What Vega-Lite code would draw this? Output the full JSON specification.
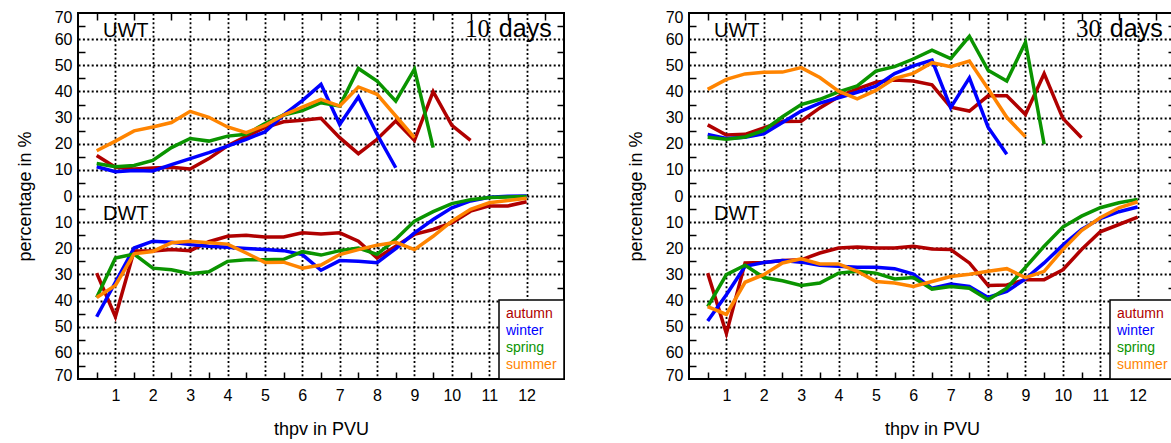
{
  "$schema": "https://vega.github.io/schema/vega-lite/v6.json",
  "padding": {"left": 15, "top": 8, "right": 0, "bottom": 0},
  "background": "white",
  "spacing": 60,
  "datasets": {
    "p10": [
      {"season":"autumn","type":"UWT","x":0.5,"v":15.5},{"season":"autumn","type":"UWT","x":1,"v":11},{"season":"autumn","type":"UWT","x":1.5,"v":10.3},{"season":"autumn","type":"UWT","x":2,"v":10.7},{"season":"autumn","type":"UWT","x":2.5,"v":11},{"season":"autumn","type":"UWT","x":3,"v":10.3},{"season":"autumn","type":"UWT","x":3.5,"v":14.3},{"season":"autumn","type":"UWT","x":4,"v":19.2},{"season":"autumn","type":"UWT","x":4.5,"v":22.8},{"season":"autumn","type":"UWT","x":5,"v":26.2},{"season":"autumn","type":"UWT","x":5.5,"v":28.4},{"season":"autumn","type":"UWT","x":6,"v":29},{"season":"autumn","type":"UWT","x":6.5,"v":29.7},{"season":"autumn","type":"UWT","x":7,"v":22.3},{"season":"autumn","type":"UWT","x":7.5,"v":16.2},{"season":"autumn","type":"UWT","x":8,"v":21.7},{"season":"autumn","type":"UWT","x":8.5,"v":28.7},{"season":"autumn","type":"UWT","x":9,"v":21.3},{"season":"autumn","type":"UWT","x":9.5,"v":39.9},{"season":"autumn","type":"UWT","x":10,"v":27},{"season":"autumn","type":"UWT","x":10.5,"v":21.3},
      {"season":"autumn","type":"DWT","x":0.5,"v":-29.5},{"season":"autumn","type":"DWT","x":1,"v":-46.2},{"season":"autumn","type":"DWT","x":1.5,"v":-21},{"season":"autumn","type":"DWT","x":2,"v":-21},{"season":"autumn","type":"DWT","x":2.5,"v":-20.5},{"season":"autumn","type":"DWT","x":3,"v":-20.9},{"season":"autumn","type":"DWT","x":3.5,"v":-17.5},{"season":"autumn","type":"DWT","x":4,"v":-15.4},{"season":"autumn","type":"DWT","x":4.5,"v":-15},{"season":"autumn","type":"DWT","x":5,"v":-15.7},{"season":"autumn","type":"DWT","x":5.5,"v":-15.7},{"season":"autumn","type":"DWT","x":6,"v":-14.1},{"season":"autumn","type":"DWT","x":6.5,"v":-14.5},{"season":"autumn","type":"DWT","x":7,"v":-14.1},{"season":"autumn","type":"DWT","x":7.5,"v":-17.3},{"season":"autumn","type":"DWT","x":8,"v":-23.7},{"season":"autumn","type":"DWT","x":8.5,"v":-19.2},{"season":"autumn","type":"DWT","x":9,"v":-14.7},{"season":"autumn","type":"DWT","x":9.5,"v":-12.8},{"season":"autumn","type":"DWT","x":10,"v":-10.3},{"season":"autumn","type":"DWT","x":10.5,"v":-5.8},{"season":"autumn","type":"DWT","x":11,"v":-3.8},{"season":"autumn","type":"DWT","x":11.5,"v":-3.8},{"season":"autumn","type":"DWT","x":12,"v":-2.2},
      {"season":"winter","type":"UWT","x":0.5,"v":11.2},{"season":"winter","type":"UWT","x":1,"v":9.3},{"season":"winter","type":"UWT","x":1.5,"v":9.8},{"season":"winter","type":"UWT","x":2,"v":9.6},{"season":"winter","type":"UWT","x":2.5,"v":12},{"season":"winter","type":"UWT","x":3,"v":14.3},{"season":"winter","type":"UWT","x":3.5,"v":16.6},{"season":"winter","type":"UWT","x":4,"v":19.1},{"season":"winter","type":"UWT","x":4.5,"v":21.7},{"season":"winter","type":"UWT","x":5,"v":24.5},{"season":"winter","type":"UWT","x":5.5,"v":31},{"season":"winter","type":"UWT","x":6,"v":36.5},{"season":"winter","type":"UWT","x":6.5,"v":42.7},{"season":"winter","type":"UWT","x":7,"v":27.4},{"season":"winter","type":"UWT","x":7.5,"v":37.9},{"season":"winter","type":"UWT","x":8,"v":23.6},{"season":"winter","type":"UWT","x":8.5,"v":10.8},
      {"season":"winter","type":"DWT","x":0.5,"v":-46.2},{"season":"winter","type":"DWT","x":1,"v":-33},{"season":"winter","type":"DWT","x":1.5,"v":-19.9},{"season":"winter","type":"DWT","x":2,"v":-17.3},{"season":"winter","type":"DWT","x":2.5,"v":-17.7},{"season":"winter","type":"DWT","x":3,"v":-18.6},{"season":"winter","type":"DWT","x":3.5,"v":-19.2},{"season":"winter","type":"DWT","x":4,"v":-19.6},{"season":"winter","type":"DWT","x":4.5,"v":-20.1},{"season":"winter","type":"DWT","x":5,"v":-20.5},{"season":"winter","type":"DWT","x":5.5,"v":-20.9},{"season":"winter","type":"DWT","x":6,"v":-22.4},{"season":"winter","type":"DWT","x":6.5,"v":-28.4},{"season":"winter","type":"DWT","x":7,"v":-24.7},{"season":"winter","type":"DWT","x":7.5,"v":-25},{"season":"winter","type":"DWT","x":8,"v":-25.5},{"season":"winter","type":"DWT","x":8.5,"v":-20.1},{"season":"winter","type":"DWT","x":9,"v":-14.1},{"season":"winter","type":"DWT","x":9.5,"v":-9},{"season":"winter","type":"DWT","x":10,"v":-4.5},{"season":"winter","type":"DWT","x":10.5,"v":-1.9},{"season":"winter","type":"DWT","x":11,"v":-0.5},{"season":"winter","type":"DWT","x":11.5,"v":-0.1},{"season":"winter","type":"DWT","x":12,"v":0},
      {"season":"spring","type":"UWT","x":0.5,"v":12.4},{"season":"spring","type":"UWT","x":1,"v":11.2},{"season":"spring","type":"UWT","x":1.5,"v":11.7},{"season":"spring","type":"UWT","x":2,"v":13.6},{"season":"spring","type":"UWT","x":2.5,"v":18.5},{"season":"spring","type":"UWT","x":3,"v":22},{"season":"spring","type":"UWT","x":3.5,"v":21},{"season":"spring","type":"UWT","x":4,"v":22.9},{"season":"spring","type":"UWT","x":4.5,"v":23.6},{"season":"spring","type":"UWT","x":5,"v":27.7},{"season":"spring","type":"UWT","x":5.5,"v":31},{"season":"spring","type":"UWT","x":6,"v":32.7},{"season":"spring","type":"UWT","x":6.5,"v":35.7},{"season":"spring","type":"UWT","x":7,"v":34.4},{"season":"spring","type":"UWT","x":7.5,"v":48.8},{"season":"spring","type":"UWT","x":8,"v":44},{"season":"spring","type":"UWT","x":8.5,"v":36.3},{"season":"spring","type":"UWT","x":9,"v":48.5},{"season":"spring","type":"UWT","x":9.5,"v":18.5},
      {"season":"spring","type":"DWT","x":0.5,"v":-38.8},{"season":"spring","type":"DWT","x":1,"v":-23.7},{"season":"spring","type":"DWT","x":1.5,"v":-22.2},{"season":"spring","type":"DWT","x":2,"v":-27.6},{"season":"spring","type":"DWT","x":2.5,"v":-28.2},{"season":"spring","type":"DWT","x":3,"v":-29.7},{"season":"spring","type":"DWT","x":3.5,"v":-29},{"season":"spring","type":"DWT","x":4,"v":-25},{"season":"spring","type":"DWT","x":4.5,"v":-24.4},{"season":"spring","type":"DWT","x":5,"v":-24.4},{"season":"spring","type":"DWT","x":5.5,"v":-24.2},{"season":"spring","type":"DWT","x":6,"v":-21.3},{"season":"spring","type":"DWT","x":6.5,"v":-22.6},{"season":"spring","type":"DWT","x":7,"v":-20.9},{"season":"spring","type":"DWT","x":7.5,"v":-19.9},{"season":"spring","type":"DWT","x":8,"v":-22.3},{"season":"spring","type":"DWT","x":8.5,"v":-16.5},{"season":"spring","type":"DWT","x":9,"v":-9.6},{"season":"spring","type":"DWT","x":9.5,"v":-6},{"season":"spring","type":"DWT","x":10,"v":-2.9},{"season":"spring","type":"DWT","x":10.5,"v":-1.4},{"season":"spring","type":"DWT","x":11,"v":-0.6},{"season":"spring","type":"DWT","x":11.5,"v":-0.4},{"season":"spring","type":"DWT","x":12,"v":-0.2},
      {"season":"summer","type":"UWT","x":0.5,"v":17.3},{"season":"summer","type":"UWT","x":1,"v":21},{"season":"summer","type":"UWT","x":1.5,"v":24.9},{"season":"summer","type":"UWT","x":2,"v":26.4},{"season":"summer","type":"UWT","x":2.5,"v":28.1},{"season":"summer","type":"UWT","x":3,"v":32.4},{"season":"summer","type":"UWT","x":3.5,"v":30.1},{"season":"summer","type":"UWT","x":4,"v":26.4},{"season":"summer","type":"UWT","x":4.5,"v":24.2},{"season":"summer","type":"UWT","x":5,"v":27},{"season":"summer","type":"UWT","x":5.5,"v":31},{"season":"summer","type":"UWT","x":6,"v":34},{"season":"summer","type":"UWT","x":6.5,"v":37},{"season":"summer","type":"UWT","x":7,"v":34.4},{"season":"summer","type":"UWT","x":7.5,"v":41.7},{"season":"summer","type":"UWT","x":8,"v":38.9},{"season":"summer","type":"UWT","x":8.5,"v":30.6},{"season":"summer","type":"UWT","x":9,"v":22.3},
      {"season":"summer","type":"DWT","x":0.5,"v":-38.8},{"season":"summer","type":"DWT","x":1,"v":-34.2},{"season":"summer","type":"DWT","x":1.5,"v":-22.1},{"season":"summer","type":"DWT","x":2,"v":-21.2},{"season":"summer","type":"DWT","x":2.5,"v":-17.9},{"season":"summer","type":"DWT","x":3,"v":-17.3},{"season":"summer","type":"DWT","x":3.5,"v":-17.9},{"season":"summer","type":"DWT","x":4,"v":-18.4},{"season":"summer","type":"DWT","x":4.5,"v":-21.8},{"season":"summer","type":"DWT","x":5,"v":-25.4},{"season":"summer","type":"DWT","x":5.5,"v":-25.3},{"season":"summer","type":"DWT","x":6,"v":-27.6},{"season":"summer","type":"DWT","x":6.5,"v":-26.4},{"season":"summer","type":"DWT","x":7,"v":-22.4},{"season":"summer","type":"DWT","x":7.5,"v":-20.5},{"season":"summer","type":"DWT","x":8,"v":-18.8},{"season":"summer","type":"DWT","x":8.5,"v":-17.7},{"season":"summer","type":"DWT","x":9,"v":-20.5},{"season":"summer","type":"DWT","x":9.5,"v":-15.4},{"season":"summer","type":"DWT","x":10,"v":-9.6},{"season":"summer","type":"DWT","x":10.5,"v":-5.1},{"season":"summer","type":"DWT","x":11,"v":-2.6},{"season":"summer","type":"DWT","x":11.5,"v":-1.7},{"season":"summer","type":"DWT","x":12,"v":-0.9}
    ],
    "p30": [
      {"season":"autumn","type":"UWT","x":0.5,"v":27.2},{"season":"autumn","type":"UWT","x":1,"v":23.3},{"season":"autumn","type":"UWT","x":1.5,"v":23.6},{"season":"autumn","type":"UWT","x":2,"v":26},{"season":"autumn","type":"UWT","x":2.5,"v":28.5},{"season":"autumn","type":"UWT","x":3,"v":28.6},{"season":"autumn","type":"UWT","x":3.5,"v":33.7},{"season":"autumn","type":"UWT","x":4,"v":38},{"season":"autumn","type":"UWT","x":4.5,"v":41},{"season":"autumn","type":"UWT","x":5,"v":43.5},{"season":"autumn","type":"UWT","x":5.5,"v":44.4},{"season":"autumn","type":"UWT","x":6,"v":44},{"season":"autumn","type":"UWT","x":6.5,"v":42.5},{"season":"autumn","type":"UWT","x":7,"v":34},{"season":"autumn","type":"UWT","x":7.5,"v":32.5},{"season":"autumn","type":"UWT","x":8,"v":38.3},{"season":"autumn","type":"UWT","x":8.5,"v":38.3},{"season":"autumn","type":"UWT","x":9,"v":31.2},{"season":"autumn","type":"UWT","x":9.5,"v":46.8},{"season":"autumn","type":"UWT","x":10,"v":29.7},{"season":"autumn","type":"UWT","x":10.5,"v":22.3},
      {"season":"autumn","type":"DWT","x":0.5,"v":-29.5},{"season":"autumn","type":"DWT","x":1,"v":-52.6},{"season":"autumn","type":"DWT","x":1.5,"v":-25.6},{"season":"autumn","type":"DWT","x":2,"v":-25.4},{"season":"autumn","type":"DWT","x":2.5,"v":-24.7},{"season":"autumn","type":"DWT","x":3,"v":-24.4},{"season":"autumn","type":"DWT","x":3.5,"v":-21.8},{"season":"autumn","type":"DWT","x":4,"v":-19.9},{"season":"autumn","type":"DWT","x":4.5,"v":-19.5},{"season":"autumn","type":"DWT","x":5,"v":-19.9},{"season":"autumn","type":"DWT","x":5.5,"v":-19.9},{"season":"autumn","type":"DWT","x":6,"v":-19.2},{"season":"autumn","type":"DWT","x":6.5,"v":-20.3},{"season":"autumn","type":"DWT","x":7,"v":-20.5},{"season":"autumn","type":"DWT","x":7.5,"v":-25.6},{"season":"autumn","type":"DWT","x":8,"v":-34.2},{"season":"autumn","type":"DWT","x":8.5,"v":-34},{"season":"autumn","type":"DWT","x":9,"v":-32},{"season":"autumn","type":"DWT","x":9.5,"v":-32},{"season":"autumn","type":"DWT","x":10,"v":-28.2},{"season":"autumn","type":"DWT","x":10.5,"v":-20.5},{"season":"autumn","type":"DWT","x":11,"v":-13.7},{"season":"autumn","type":"DWT","x":11.5,"v":-10.9},{"season":"autumn","type":"DWT","x":12,"v":-8.1},
      {"season":"winter","type":"UWT","x":0.5,"v":23.5},{"season":"winter","type":"UWT","x":1,"v":22},{"season":"winter","type":"UWT","x":1.5,"v":22.5},{"season":"winter","type":"UWT","x":2,"v":23.8},{"season":"winter","type":"UWT","x":2.5,"v":28.1},{"season":"winter","type":"UWT","x":3,"v":32.5},{"season":"winter","type":"UWT","x":3.5,"v":35.5},{"season":"winter","type":"UWT","x":4,"v":37.6},{"season":"winter","type":"UWT","x":4.5,"v":39.7},{"season":"winter","type":"UWT","x":5,"v":42},{"season":"winter","type":"UWT","x":5.5,"v":46.8},{"season":"winter","type":"UWT","x":6,"v":49.8},{"season":"winter","type":"UWT","x":6.5,"v":52},{"season":"winter","type":"UWT","x":7,"v":33.8},{"season":"winter","type":"UWT","x":7.5,"v":45.2},{"season":"winter","type":"UWT","x":8,"v":26.3},{"season":"winter","type":"UWT","x":8.5,"v":16},
      {"season":"winter","type":"DWT","x":0.5,"v":-47.8},{"season":"winter","type":"DWT","x":1,"v":-37.8},{"season":"winter","type":"DWT","x":1.5,"v":-26.9},{"season":"winter","type":"DWT","x":2,"v":-25.4},{"season":"winter","type":"DWT","x":2.5,"v":-24.7},{"season":"winter","type":"DWT","x":3,"v":-25.3},{"season":"winter","type":"DWT","x":3.5,"v":-26.5},{"season":"winter","type":"DWT","x":4,"v":-26.9},{"season":"winter","type":"DWT","x":4.5,"v":-27.3},{"season":"winter","type":"DWT","x":5,"v":-27.3},{"season":"winter","type":"DWT","x":5.5,"v":-27.8},{"season":"winter","type":"DWT","x":6,"v":-29.9},{"season":"winter","type":"DWT","x":6.5,"v":-35.3},{"season":"winter","type":"DWT","x":7,"v":-33.7},{"season":"winter","type":"DWT","x":7.5,"v":-34.6},{"season":"winter","type":"DWT","x":8,"v":-38.8},{"season":"winter","type":"DWT","x":8.5,"v":-36.5},{"season":"winter","type":"DWT","x":9,"v":-31.7},{"season":"winter","type":"DWT","x":9.5,"v":-25.6},{"season":"winter","type":"DWT","x":10,"v":-18.8},{"season":"winter","type":"DWT","x":10.5,"v":-12.8},{"season":"winter","type":"DWT","x":11,"v":-8.6},{"season":"winter","type":"DWT","x":11.5,"v":-6},{"season":"winter","type":"DWT","x":12,"v":-4.2},
      {"season":"spring","type":"UWT","x":0.5,"v":22.5},{"season":"spring","type":"UWT","x":1,"v":21.7},{"season":"spring","type":"UWT","x":1.5,"v":22.6},{"season":"spring","type":"UWT","x":2,"v":25.1},{"season":"spring","type":"UWT","x":2.5,"v":30.3},{"season":"spring","type":"UWT","x":3,"v":35},{"season":"spring","type":"UWT","x":3.5,"v":37},{"season":"spring","type":"UWT","x":4,"v":39.8},{"season":"spring","type":"UWT","x":4.5,"v":42.1},{"season":"spring","type":"UWT","x":5,"v":47.8},{"season":"spring","type":"UWT","x":5.5,"v":49.5},{"season":"spring","type":"UWT","x":6,"v":52.4},{"season":"spring","type":"UWT","x":6.5,"v":55.8},{"season":"spring","type":"UWT","x":7,"v":52.6},{"season":"spring","type":"UWT","x":7.5,"v":61.1},{"season":"spring","type":"UWT","x":8,"v":48.1},{"season":"spring","type":"UWT","x":8.5,"v":44},{"season":"spring","type":"UWT","x":9,"v":58.8},{"season":"spring","type":"UWT","x":9.5,"v":19.8},
      {"season":"spring","type":"DWT","x":0.5,"v":-42.3},{"season":"spring","type":"DWT","x":1,"v":-30.1},{"season":"spring","type":"DWT","x":1.5,"v":-26.5},{"season":"spring","type":"DWT","x":2,"v":-31.2},{"season":"spring","type":"DWT","x":2.5,"v":-32.4},{"season":"spring","type":"DWT","x":3,"v":-34.2},{"season":"spring","type":"DWT","x":3.5,"v":-33.3},{"season":"spring","type":"DWT","x":4,"v":-29.5},{"season":"spring","type":"DWT","x":4.5,"v":-28.8},{"season":"spring","type":"DWT","x":5,"v":-29.5},{"season":"spring","type":"DWT","x":5.5,"v":-31.7},{"season":"spring","type":"DWT","x":6,"v":-31.2},{"season":"spring","type":"DWT","x":6.5,"v":-35.6},{"season":"spring","type":"DWT","x":7,"v":-34.6},{"season":"spring","type":"DWT","x":7.5,"v":-35.3},{"season":"spring","type":"DWT","x":8,"v":-39.7},{"season":"spring","type":"DWT","x":8.5,"v":-35.3},{"season":"spring","type":"DWT","x":9,"v":-27.3},{"season":"spring","type":"DWT","x":9.5,"v":-19.2},{"season":"spring","type":"DWT","x":10,"v":-11.9},{"season":"spring","type":"DWT","x":10.5,"v":-7.7},{"season":"spring","type":"DWT","x":11,"v":-4.5},{"season":"spring","type":"DWT","x":11.5,"v":-2.6},{"season":"spring","type":"DWT","x":12,"v":-1.3},
      {"season":"summer","type":"UWT","x":0.5,"v":40.8},{"season":"summer","type":"UWT","x":1,"v":44.6},{"season":"summer","type":"UWT","x":1.5,"v":46.7},{"season":"summer","type":"UWT","x":2,"v":47.3},{"season":"summer","type":"UWT","x":2.5,"v":47.4},{"season":"summer","type":"UWT","x":3,"v":49.1},{"season":"summer","type":"UWT","x":3.5,"v":45.3},{"season":"summer","type":"UWT","x":4,"v":40.1},{"season":"summer","type":"UWT","x":4.5,"v":37.2},{"season":"summer","type":"UWT","x":5,"v":40.4},{"season":"summer","type":"UWT","x":5.5,"v":45},{"season":"summer","type":"UWT","x":6,"v":46.9},{"season":"summer","type":"UWT","x":6.5,"v":51},{"season":"summer","type":"UWT","x":7,"v":49.5},{"season":"summer","type":"UWT","x":7.5,"v":51.6},{"season":"summer","type":"UWT","x":8,"v":41},{"season":"summer","type":"UWT","x":8.5,"v":30.1},{"season":"summer","type":"UWT","x":9,"v":22.6},
      {"season":"summer","type":"DWT","x":0.5,"v":-42.3},{"season":"summer","type":"DWT","x":1,"v":-45.3},{"season":"summer","type":"DWT","x":1.5,"v":-33},{"season":"summer","type":"DWT","x":2,"v":-30.1},{"season":"summer","type":"DWT","x":2.5,"v":-25.6},{"season":"summer","type":"DWT","x":3,"v":-24},{"season":"summer","type":"DWT","x":3.5,"v":-26},{"season":"summer","type":"DWT","x":4,"v":-26},{"season":"summer","type":"DWT","x":4.5,"v":-28.8},{"season":"summer","type":"DWT","x":5,"v":-32.7},{"season":"summer","type":"DWT","x":5.5,"v":-33.3},{"season":"summer","type":"DWT","x":6,"v":-34.6},{"season":"summer","type":"DWT","x":6.5,"v":-32.7},{"season":"summer","type":"DWT","x":7,"v":-30.8},{"season":"summer","type":"DWT","x":7.5,"v":-29.9},{"season":"summer","type":"DWT","x":8,"v":-28.8},{"season":"summer","type":"DWT","x":8.5,"v":-27.8},{"season":"summer","type":"DWT","x":9,"v":-31.2},{"season":"summer","type":"DWT","x":9.5,"v":-28.8},{"season":"summer","type":"DWT","x":10,"v":-20.5},{"season":"summer","type":"DWT","x":10.5,"v":-13.2},{"season":"summer","type":"DWT","x":11,"v":-8.3},{"season":"summer","type":"DWT","x":11.5,"v":-4.5},{"season":"summer","type":"DWT","x":12,"v":-2.2}
    ]
  },
  "hconcat": [
    {
      "width": 486, "height": 366,
      "resolve": {"axis": {"x": "independent", "y": "independent"}},
      "layer": [
        {
          "data": {"name": "p10"},
          "mark": {"type": "line", "strokeWidth": 3.5},
          "encoding": {
            "x": {"field": "x", "type": "quantitative", "scale": {"domain": [0, 13], "nice": false, "zero": false},
              "axis": {"orient": "bottom", "title": "thpv in PVU", "values": [0.5,1,1.5,2,2.5,3,3.5,4,4.5,5,5.5,6,6.5,7,7.5,8,8.5,9,9.5,10,10.5,11,11.5,12,12.5],
                "labelExpr": "datum.value % 1 == 0 ? format(datum.value, 'd') : ''",
                "tickOpacity": {"condition": {"test": "datum.value % 1 != 0", "value": 1}, "value": 0},
                "gridOpacity": {"condition": {"test": "datum.value % 1 == 0", "value": 1}, "value": 0}}},
            "y": {"field": "v", "type": "quantitative", "scale": {"domain": [-70, 70], "nice": false, "zero": false},
              "axis": {"orient": "left", "title": "percentage in %", "labelFlush": true, "labelFlushOffset": 4, "values": [-70,-65,-60,-55,-50,-45,-40,-35,-30,-25,-20,-15,-10,-5,0,5,10,15,20,25,30,35,40,45,50,55,60,65,70],
                "labelExpr": "datum.value % 10 == 0 ? format(abs(datum.value), 'd') : ''",
                "tickOpacity": {"condition": {"test": "datum.value % 10 != 0", "value": 1}, "value": 0},
                "gridOpacity": {"condition": {"test": "datum.value % 10 == 0 && abs(datum.value) < 70", "value": 1}, "value": 0}}},
            "color": {"field": "season", "type": "nominal",
              "scale": {"domain": ["autumn", "winter", "spring", "summer"], "range": ["#b00000", "#0000ff", "#0a9400", "#ff8400"]},
              "legend": {"title": null, "orient": "bottom-right", "offset": 0.01, "padding": 7, "strokeColor": "black", "fillColor": "white",
                "symbolType": "circle", "symbolSize": 0.01, "symbolOpacity": 0, "labelOffset": -14, "labelFontSize": 14, "labelFont": "Liberation Sans", "rowPadding": 3,
                "encode": {"labels": {"update": {"fill": {"scale": "color", "field": "value"}}}, "legend": {"update": {"strokeWidth": {"value": 1.5}}}}}},
            "detail": {"field": "type", "type": "nominal"}
          }
        },
        {
          "data": {"name": "p10"},
          "mark": {"type": "point", "opacity": 0},
          "encoding": {
            "x": {"field": "x", "type": "quantitative", "axis": {"orient": "top", "title": null, "labels": false, "grid": false, "values": [0.5,1.5,2.5,3.5,4.5,5.5,6.5,7.5,8.5,9.5,10.5,11.5,12.5]}},
            "y": {"field": "v", "type": "quantitative", "axis": {"orient": "right", "title": null, "labels": false, "grid": false, "values": [-65,-55,-45,-35,-25,-15,-5,5,15,25,35,45,55,65]}}
          }
        },
        {
          "data": {"values": [{}]},
          "mark": {"type": "text", "text": "UWT", "align": "left", "baseline": "middle", "fontSize": 20, "font": "Liberation Sans", "color": "black"},
          "encoding": {"x": {"datum": 0.67, "type": "quantitative", "axis": null}, "y": {"datum": 63, "type": "quantitative", "axis": null}}
        },
        {
          "data": {"values": [{}]},
          "mark": {"type": "text", "text": "DWT", "align": "left", "baseline": "middle", "fontSize": 20, "font": "Liberation Sans", "color": "black"},
          "encoding": {"x": {"datum": 0.67, "type": "quantitative", "axis": null}, "y": {"datum": -7, "type": "quantitative", "axis": null}}
        },
        {
          "data": {"values": [{}]},
          "mark": {"type": "text", "text": "10", "align": "right", "baseline": "alphabetic", "fontSize": 25, "font": "Liberation Serif", "color": "black"},
          "encoding": {"x": {"datum": 11.02, "type": "quantitative", "axis": null}, "y": {"datum": 60.8, "type": "quantitative", "axis": null}}
        },
        {
          "data": {"values": [{}]},
          "mark": {"type": "text", "text": "days", "align": "right", "baseline": "alphabetic", "fontSize": 25, "font": "Liberation Sans", "color": "black"},
          "encoding": {"x": {"datum": 12.67, "type": "quantitative", "axis": null}, "y": {"datum": 60.8, "type": "quantitative", "axis": null}}
        }
      ]
    },
    {
      "width": 486, "height": 366,
      "resolve": {"axis": {"x": "independent", "y": "independent"}},
      "layer": [
        {
          "data": {"name": "p30"},
          "mark": {"type": "line", "strokeWidth": 3.5},
          "encoding": {
            "x": {"field": "x", "type": "quantitative", "scale": {"domain": [0, 13], "nice": false, "zero": false},
              "axis": {"orient": "bottom", "title": "thpv in PVU", "values": [0.5,1,1.5,2,2.5,3,3.5,4,4.5,5,5.5,6,6.5,7,7.5,8,8.5,9,9.5,10,10.5,11,11.5,12,12.5],
                "labelExpr": "datum.value % 1 == 0 ? format(datum.value, 'd') : ''",
                "tickOpacity": {"condition": {"test": "datum.value % 1 != 0", "value": 1}, "value": 0},
                "gridOpacity": {"condition": {"test": "datum.value % 1 == 0", "value": 1}, "value": 0}}},
            "y": {"field": "v", "type": "quantitative", "scale": {"domain": [-70, 70], "nice": false, "zero": false},
              "axis": {"orient": "left", "title": "percentage in %", "labelFlush": true, "labelFlushOffset": 4, "values": [-70,-65,-60,-55,-50,-45,-40,-35,-30,-25,-20,-15,-10,-5,0,5,10,15,20,25,30,35,40,45,50,55,60,65,70],
                "labelExpr": "datum.value % 10 == 0 ? format(abs(datum.value), 'd') : ''",
                "tickOpacity": {"condition": {"test": "datum.value % 10 != 0", "value": 1}, "value": 0},
                "gridOpacity": {"condition": {"test": "datum.value % 10 == 0 && abs(datum.value) < 70", "value": 1}, "value": 0}}},
            "color": {"field": "season", "type": "nominal",
              "scale": {"domain": ["autumn", "winter", "spring", "summer"], "range": ["#b00000", "#0000ff", "#0a9400", "#ff8400"]},
              "legend": {"title": null, "orient": "bottom-right", "offset": 0.01, "padding": 7, "strokeColor": "black", "fillColor": "white",
                "symbolType": "circle", "symbolSize": 0.01, "symbolOpacity": 0, "labelOffset": -14, "labelFontSize": 14, "labelFont": "Liberation Sans", "rowPadding": 3,
                "encode": {"labels": {"update": {"fill": {"scale": "color", "field": "value"}}}, "legend": {"update": {"strokeWidth": {"value": 1.5}}}}}},
            "detail": {"field": "type", "type": "nominal"}
          }
        },
        {
          "data": {"name": "p30"},
          "mark": {"type": "point", "opacity": 0},
          "encoding": {
            "x": {"field": "x", "type": "quantitative", "axis": {"orient": "top", "title": null, "labels": false, "grid": false, "values": [0.5,1.5,2.5,3.5,4.5,5.5,6.5,7.5,8.5,9.5,10.5,11.5,12.5]}},
            "y": {"field": "v", "type": "quantitative", "axis": {"orient": "right", "title": null, "labels": false, "grid": false, "values": [-65,-55,-45,-35,-25,-15,-5,5,15,25,35,45,55,65]}}
          }
        },
        {
          "data": {"values": [{}]},
          "mark": {"type": "text", "text": "UWT", "align": "left", "baseline": "middle", "fontSize": 20, "font": "Liberation Sans", "color": "black"},
          "encoding": {"x": {"datum": 0.67, "type": "quantitative", "axis": null}, "y": {"datum": 63, "type": "quantitative", "axis": null}}
        },
        {
          "data": {"values": [{}]},
          "mark": {"type": "text", "text": "DWT", "align": "left", "baseline": "middle", "fontSize": 20, "font": "Liberation Sans", "color": "black"},
          "encoding": {"x": {"datum": 0.67, "type": "quantitative", "axis": null}, "y": {"datum": -7, "type": "quantitative", "axis": null}}
        },
        {
          "data": {"values": [{}]},
          "mark": {"type": "text", "text": "30", "align": "right", "baseline": "alphabetic", "fontSize": 25, "font": "Liberation Serif", "color": "black"},
          "encoding": {"x": {"datum": 11.02, "type": "quantitative", "axis": null}, "y": {"datum": 60.8, "type": "quantitative", "axis": null}}
        },
        {
          "data": {"values": [{}]},
          "mark": {"type": "text", "text": "days", "align": "right", "baseline": "alphabetic", "fontSize": 25, "font": "Liberation Sans", "color": "black"},
          "encoding": {"x": {"datum": 12.67, "type": "quantitative", "axis": null}, "y": {"datum": 60.8, "type": "quantitative", "axis": null}}
        }
      ]
    }
  ],
  "resolve": {"legend": {"color": "independent"}},
  "config": {
    "font": "Liberation Sans",
    "view": {"stroke": "black", "strokeWidth": 2},
    "axis": {
      "domain": false,
      "tickSize": -7, "tickColor": "black", "tickWidth": 1.5,
      "gridColor": "black", "gridDash": [2, 2.4], "gridWidth": 1.8,
      "labelFont": "Liberation Sans", "labelFontSize": 16, "labelColor": "black", "labelPadding": 13,
      "titleFont": "Liberation Sans", "titleFontSize": 18, "titleFontWeight": "normal", "titleColor": "black", "titlePadding": 20
    },
    "axisX": {"labelPadding": 15, "titlePadding": 17}
  }
}
